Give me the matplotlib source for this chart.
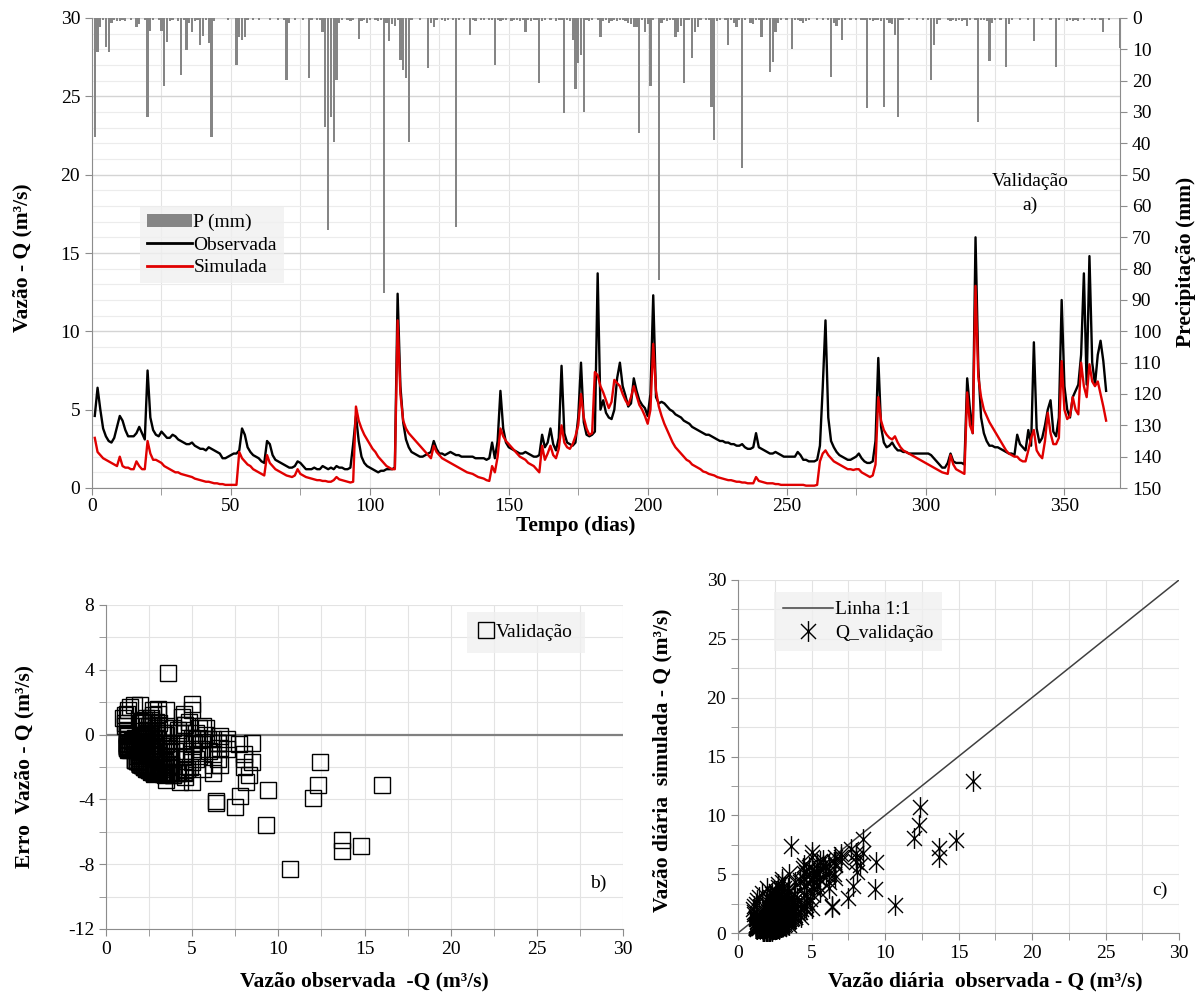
import numpy as np
import matplotlib
matplotlib.use("Agg")
import matplotlib.pyplot as plt
from matplotlib.path import Path
from matplotlib.lines import Line2D
from matplotlib.patches import Patch

# ---------------- data ----------------
q_obs = [
    4.6, 6.4, 5.0, 3.8, 3.3, 3.0, 2.9, 3.2, 3.9, 4.6,
    4.3, 3.7, 3.3, 3.3, 3.3, 3.5, 3.9, 3.5, 3.1, 7.5,
    4.5, 3.7, 3.4, 3.3, 3.6, 3.4, 3.2, 3.2, 3.4, 3.3,
    3.1, 3.0, 2.9, 2.8, 2.8, 2.9, 2.7, 2.6, 2.5, 2.5,
    2.4, 2.6, 2.5, 2.4, 2.3, 2.2, 1.9, 1.9, 2.0, 2.1,
    2.2, 2.2, 2.4, 3.8, 3.4, 2.6, 2.3, 2.1, 2.0, 1.9,
    1.7, 1.6, 3.0, 2.8, 2.1, 1.8, 1.7, 1.6, 1.5, 1.4,
    1.3, 1.3, 1.4, 1.7, 1.6, 1.4, 1.2, 1.2, 1.2, 1.3,
    1.2, 1.2, 1.4, 1.3, 1.2, 1.3, 1.2, 1.4, 1.3, 1.3,
    1.2, 1.2, 1.3, 2.8, 4.6, 3.0, 2.0, 1.6, 1.4, 1.3,
    1.2, 1.1, 1.0, 1.1, 1.1, 1.2, 1.2, 1.2, 1.3, 12.4,
    6.5, 4.2, 3.1, 2.6, 2.3, 2.2, 2.1, 2.0, 2.0, 2.1,
    2.2, 2.3, 3.0, 2.5, 2.2, 2.2, 2.1, 2.2, 2.3, 2.2,
    2.1, 2.1, 2.0, 2.0, 2.0, 2.0, 2.0, 1.9, 1.9, 1.9,
    1.9, 1.8, 1.9, 2.9, 1.9, 3.0, 6.2, 3.8, 2.9, 2.6,
    2.5, 2.4, 2.3, 2.2, 2.2, 2.3, 2.2, 2.1, 2.0, 2.0,
    2.1, 3.4, 2.6, 2.9, 3.8, 2.8, 2.4, 3.2, 7.8, 3.5,
    2.9, 2.8, 2.7, 2.9, 4.5, 8.0, 4.2, 3.4, 3.3, 3.4,
    3.6, 13.7, 5.0, 5.6, 4.8, 4.5, 4.4, 5.0, 7.0, 8.0,
    6.5, 5.9, 5.2, 5.4, 7.0, 6.2, 5.6, 5.3, 5.1, 4.6,
    6.0, 12.3, 5.8, 5.4, 5.5, 5.4, 5.2, 5.0, 4.9, 4.7,
    4.6, 4.5, 4.3, 4.2, 4.1, 3.9, 3.8, 3.7, 3.6, 3.5,
    3.4, 3.4, 3.3, 3.2, 3.1, 3.0, 3.0, 2.9, 2.9, 2.8,
    2.8, 2.7, 2.7, 2.8, 2.6, 2.5, 2.5, 2.6, 3.5, 2.6,
    2.5, 2.4, 2.3, 2.2, 2.2, 2.3, 2.2, 2.1, 2.0, 2.0,
    2.0, 2.0, 2.0, 2.3, 2.1, 1.8, 1.8, 1.7, 1.7, 1.7,
    1.8, 2.7, 6.4, 10.7, 4.5, 3.0, 2.6, 2.3, 2.1, 2.0,
    1.9, 1.8, 1.8, 1.9, 2.0, 2.2, 1.9, 1.7, 1.6, 1.6,
    1.7, 3.0, 8.3, 3.9, 2.9, 2.6, 2.7, 2.9, 2.6, 2.4,
    2.4, 2.3, 2.3, 2.2, 2.2, 2.2, 2.2, 2.2, 2.2, 2.2,
    2.2, 2.1, 1.9, 1.7, 1.5, 1.3, 1.3, 1.6, 2.2, 1.7,
    1.6, 1.6, 1.6, 1.5, 7.0, 5.0, 3.5, 16.0, 7.7, 4.5,
    3.5, 3.0, 2.7, 2.7, 2.6, 2.6, 2.5, 2.4, 2.3, 2.2,
    2.2, 2.1, 3.4, 2.8, 2.6, 2.4, 3.7, 2.7, 9.3, 3.8,
    2.9, 3.2, 4.0, 5.0, 5.6, 3.6, 3.3, 4.5, 12.0, 6.5,
    5.0, 4.5, 5.8, 6.2, 6.6, 8.5, 13.7, 6.6, 14.8, 8.0,
    6.6, 8.5, 9.4, 8.1, 6.2,
]

q_sim = [
    3.2, 2.3, 2.1, 1.9, 1.8, 1.7, 1.6, 1.5, 1.4, 2.0,
    1.4, 1.3, 1.3, 1.2, 1.2, 1.7, 1.4, 1.2, 1.2, 3.0,
    2.2, 1.8, 1.8, 1.7, 1.6, 1.4, 1.3, 1.2, 1.1, 1.0,
    1.0, 0.9, 0.85, 0.8, 0.75, 0.7, 0.6, 0.55, 0.5, 0.45,
    0.4, 0.4, 0.35, 0.3, 0.3, 0.25, 0.25, 0.2, 0.2, 0.2,
    0.2, 0.2, 2.3, 1.9, 1.7, 1.5, 1.4, 1.2, 1.1, 1.0,
    0.9, 0.8, 2.1, 1.6, 1.4, 1.2, 1.1, 1.0, 0.9, 0.8,
    0.75, 0.7, 0.8, 1.2, 0.9, 0.8, 0.7, 0.65, 0.6, 0.55,
    0.5, 0.5, 0.45, 0.45, 0.4, 0.4, 0.5, 0.7, 0.55, 0.5,
    0.45, 0.4, 0.35, 0.4, 5.2, 4.3, 3.8, 3.4, 3.1, 2.8,
    2.5, 2.3, 2.0, 1.8, 1.6, 1.4, 1.3, 1.2, 1.2, 10.7,
    6.0, 4.3, 3.8, 3.5, 3.3, 3.1, 2.9, 2.7, 2.5, 2.3,
    2.1, 1.9, 2.7, 2.3, 2.1, 1.9, 1.8, 1.7, 1.6, 1.5,
    1.4, 1.3, 1.2, 1.1, 1.0, 0.95, 0.9, 0.8, 0.7, 0.65,
    0.6, 0.5, 0.45, 1.4, 1.0, 2.0, 3.8, 3.3, 3.0, 2.8,
    2.6, 2.4, 2.2, 2.0, 1.9, 1.8, 1.6, 1.5, 1.4, 1.2,
    1.0, 2.7, 1.8, 2.2, 2.7, 2.1, 1.9, 2.5, 4.0, 2.9,
    2.6, 2.5, 2.8, 3.3, 4.0, 6.0, 4.5, 3.8, 3.4, 3.5,
    7.4, 7.2, 6.5, 6.1, 5.6, 5.1, 5.5, 6.9, 6.7, 6.5,
    6.0, 5.6, 5.3, 5.8, 6.5, 5.9, 5.3, 5.0, 4.6, 4.1,
    5.0, 9.2, 6.2, 5.2, 4.6, 4.1, 3.7, 3.3, 2.9, 2.6,
    2.4, 2.2, 2.0, 1.8, 1.7, 1.5, 1.4, 1.3, 1.2, 1.05,
    1.0, 0.9, 0.85, 0.8, 0.7, 0.65, 0.6, 0.55, 0.5, 0.5,
    0.45, 0.4, 0.4, 0.35, 0.35, 0.3, 0.3, 0.3, 0.7, 0.45,
    0.4, 0.35, 0.3, 0.3, 0.3, 0.25, 0.25, 0.2, 0.2, 0.2,
    0.2, 0.2, 0.2, 0.2, 0.2, 0.2, 0.15, 0.15, 0.15, 0.15,
    0.2, 1.7, 2.2, 2.4, 2.1, 1.9, 1.7, 1.6, 1.5, 1.4,
    1.3, 1.2, 1.2, 1.15, 1.2, 1.2, 1.0, 0.9, 0.8, 0.7,
    0.8, 1.5, 5.8, 4.3, 3.7, 3.4, 3.2, 3.1, 3.3, 2.9,
    2.6, 2.4, 2.3, 2.2, 2.1, 2.0, 1.9, 1.8, 1.7, 1.6,
    1.5, 1.4, 1.3, 1.2, 1.1, 1.0, 0.95, 0.9, 2.1, 1.5,
    1.2, 1.1, 1.0, 0.9, 6.1, 4.0, 3.5, 12.9, 7.1, 5.8,
    5.0, 4.6, 4.2, 3.9, 3.6, 3.3, 3.0, 2.7, 2.4, 2.2,
    2.1, 2.0, 2.0, 1.8, 1.7, 1.7, 2.4, 3.2, 3.7, 2.4,
    2.1, 1.9, 3.0, 4.8, 3.5, 2.8, 2.8, 3.2, 8.1, 5.0,
    4.4, 4.6, 5.8, 5.0, 4.7, 8.0, 6.5, 5.8, 7.9, 6.8,
    6.5, 6.8, 6.0, 5.2, 4.3,
]

p_days = [
    1, 2, 3, 4, 5, 6, 7, 8, 9, 10, 11, 12, 14, 16, 17, 19, 20, 21, 22, 24,
    25, 26, 27, 28, 29, 31, 32, 33, 34, 35, 36, 37, 38, 39, 40, 41, 42, 43, 44, 49,
    52, 53, 54, 55, 56, 58, 60, 64, 67, 69, 70, 71, 73, 76, 78, 79, 81, 82, 83, 84,
    85, 86, 87, 88, 89, 90, 92, 93, 94, 96, 97, 98, 99, 100, 102, 103, 104, 105, 106, 107,
    108, 109, 110, 111, 112, 113, 114, 115, 118, 121, 122, 123, 124, 126, 127, 128, 130, 131, 132, 134,
    136, 137, 138, 140, 141, 143, 144, 145, 146, 147, 148, 149, 151, 152, 153, 154, 155, 156, 157, 158,
    159, 160, 161, 162, 163, 165, 167, 168, 169, 170, 171, 172, 173, 174, 175, 176, 177, 178, 179, 180,
    182, 183, 184, 185, 186, 187, 188, 189, 190, 191, 192, 193, 194, 195, 196, 197, 198, 199, 200, 201,
    202, 204, 205, 206, 207, 208, 209, 210, 211, 212, 213, 214, 215, 216, 217, 218, 219, 221, 222, 223,
    224, 225, 226, 228, 229, 230, 231, 232, 233, 234, 235, 237, 238, 239, 240, 241, 242, 243, 244, 245,
    246, 247, 248, 250, 252, 253, 254, 255, 256, 257, 258, 261, 263, 265, 266, 267, 268, 269, 270, 271,
    273, 275, 277, 278, 279, 280, 281, 282, 283, 284, 285, 286, 287, 288, 289, 290, 291, 292, 294, 297,
    299, 301, 302, 303, 304, 305, 308, 309, 310, 311, 312, 313, 314, 315, 316, 318, 319, 320, 321, 322,
    323, 324, 325, 327, 329, 330, 331, 334, 337, 339, 342, 345, 347, 348, 351, 352, 353, 354, 355, 357,
    360, 361, 363, 364, 366, 370,
]
p_mm = [
    38, 10.7, 3, 0.5, 9.2, 11, 1.5, 0.5, 1, 1, 0.5, 1, 0.5, 3, 2, 0.5, 31.5, 4, 0.5, 0.5,
    4.3, 21.7, 7.8, 1, 0.5, 1, 18.2, 0.5, 10.2, 1.5, 4.4, 1, 0.5, 8.6, 5.9, 0.5, 8, 37.9, 1, 0.5,
    14.9, 6, 7, 6, 0.5, 0.5, 0.5, 0.5, 0.5, 0.5, 19.8, 1.5, 0.5, 0.5, 19.3, 0.5, 0.5, 0.5, 4.5, 34.7,
    67.6, 31.5, 39.5, 19.8, 1.5, 0.5, 0.5, 1, 0.5, 6.6, 1, 0.5, 1.5, 0.5, 0.5, 1, 0.5, 87.8, 1.5, 7.4,
    2, 2.5, 0.5, 13.5, 16.7, 19.2, 39.5, 0.5, 0.5, 16, 1.5, 3, 0.5, 0.5, 1, 0.5, 0.5, 66.6, 0.5, 0.5,
    5.4, 0.5, 1, 0.5, 0.5, 0.5, 0.5, 14.9, 0.5, 1, 0.5, 0.5, 1, 0.5, 0.5, 1, 0.5, 4.4, 0.5, 1,
    0.5, 0.5, 20.8, 1, 0.5, 0.5, 1, 0.5, 0.5, 30.4, 0.5, 1, 7, 22.8, 14.4, 11.7, 29.9, 0.5, 1, 0.5,
    0.5, 6, 1, 0.5, 1.5, 1, 0.5, 1, 0.5, 0.5, 1, 1.5, 2, 3, 3, 36.8, 0.5, 4.4, 2, 21.6,
    0.5, 83.6, 1.5, 0.5, 1, 0.5, 0.5, 6.1, 4.4, 2.6, 20.9, 0.5, 0.5, 12.9, 4.5, 3, 0.5, 0.5, 0.5, 28.3,
    38.9, 1, 0.5, 0.5, 8.6, 0.5, 1.5, 3, 0.5, 48, 0.5, 1.5, 2, 0.5, 0.5, 6, 0.5, 0.5, 17.2, 14.1,
    4.4, 1.5, 0.5, 0.5, 10, 0.5, 0.5, 1, 1.5, 1, 0.5, 0.5, 0.5, 0.5, 18.7, 1.5, 2.5, 0.5, 7, 0.5,
    0.5, 0.5, 0.5, 0.5, 28.8, 0.5, 1, 0.5, 0.5, 1, 28.3, 0.5, 1.5, 2, 5.4, 31.5, 0.5, 0.5, 0.5, 0.5,
    0.5, 0.5, 19.8, 8.6, 2, 0.5, 0.5, 1, 0.5, 1, 0.5, 1, 0.5, 2.6, 0.5, 0.5, 33.1, 0.5, 0.5, 1,
    13.6, 1.5, 0.5, 0.5, 15.7, 2, 0.5, 0.5, 0.5, 7.4, 0.5, 0.5, 15.7, 0.5, 1, 0.5, 1, 0.5, 1, 0.5,
    0.5, 0.5, 0.5, 4.4, 0.5, 9.6,
]

# ---------------- style ----------------
plt.rcParams["font.family"] = ["Liberation Serif", "DejaVu Serif"]
plt.rcParams["axes.unicode_minus"] = False
W, H = 1202, 994
fig = plt.figure(figsize=(W / 100, H / 100), dpi=100)

SP = "#8c8c8c"      # spine colour
GR = "#e3e3e3"      # grid colour
TICK_FS = 14
LAB_FS = 15.5
RED = "#e00000"


def box(l, t, r, b):
    return [l / W, 1 - b / H, (r - l) / W, (b - t) / H]


def fx(px):
    return px / W


def fy(py):
    return 1 - py / H


obs = np.array(q_obs)
sim = np.array(q_sim)
days = np.arange(1, len(obs) + 1)

# ---------------- panel a ----------------
ax = fig.add_axes(box(92, 18, 1120, 488))
ax.set_xlim(0, 370)
ax.set_ylim(0, 30)
ax.set_yticks(np.arange(0, 31, 5))
ax.set_yticks(np.arange(0, 31, 1), minor=True)
ax.set_xticks(np.arange(0, 351, 50))
ax.set_xticks(np.arange(0, 371, 25), minor=True)
ax.grid(which="major", axis="y", color="#d4d4d4", lw=1)
ax.grid(which="minor", axis="y", color="#ececec", lw=0.8)
ax.grid(which="both", axis="x", color=GR, lw=0.8)
ax.set_axisbelow(True)
ax.tick_params(axis="y", which="minor", length=0)
ax.tick_params(axis="both", which="major", direction="out", length=5, color=SP,
               labelsize=TICK_FS)
ax.tick_params(axis="x", which="both", direction="out", length=5, color=SP, pad=2)
for s in ["top", "right"]:
    ax.spines[s].set_visible(False)
for s in ["left", "bottom"]:
    ax.spines[s].set_color(SP)

ax.plot(days, obs, color="black", lw=1.7, zorder=3)
ax.plot(days, sim, color=RED, lw=1.7, zorder=4)

ax2 = ax.twinx()
ax2.set_ylim(150, 0)
ax2.set_xlim(0, 370)
ax2.bar(p_days, p_mm, width=0.8, color="#858585", zorder=2)
ax2.set_yticks(np.arange(0, 151, 10))
ax2.tick_params(axis="y", direction="out", length=5, color=SP, labelsize=TICK_FS)
for s in ["top", "left", "bottom"]:
    ax2.spines[s].set_visible(False)
ax2.spines["right"].set_color(SP)

fig.text(fx(22), fy(258), "Vazão - Q (m³/s)", rotation=90, ha="center", va="center",
         fontsize=LAB_FS, fontweight="bold")
fig.text(fx(1186), fy(262), "Precipitação (mm)", rotation=90, ha="center", va="center",
         fontsize=LAB_FS, fontweight="bold")
fig.text(fx(576), fy(526), "Tempo (dias)", ha="center", va="center",
         fontsize=LAB_FS, fontweight="bold")
fig.text(fx(1030), fy(182), "Validação", ha="center", va="center", fontsize=14)
fig.text(fx(1030), fy(205), "a)", ha="center", va="center", fontsize=14)

handles = [Patch(facecolor="#858585", edgecolor="none"),
           Line2D([], [], color="black", lw=2),
           Line2D([], [], color=RED, lw=2)]
leg = fig.legend(handles, ["P (mm)", "Observada", "Simulada"], loc="upper left",
                 bbox_to_anchor=(fx(140), fy(207)), fontsize=14, frameon=True,
                 facecolor="#f0f0f0", edgecolor="none", fancybox=False,
                 handlelength=2.3, handletextpad=0.1, labelspacing=0.25,
                 borderpad=0.35, borderaxespad=0)

# ---------------- panel b ----------------
axb = fig.add_axes(box(106, 605, 623, 929))
axb.set_xlim(0, 30)
axb.set_ylim(-12, 8)
axb.set_xticks(np.arange(0, 31, 5))
axb.set_xticks(np.arange(0, 31, 2.5), minor=True)
axb.set_yticks(np.arange(-12, 9, 4))
axb.set_yticks(np.arange(-12, 9, 2), minor=True)
axb.grid(which="both", color=GR, lw=0.8)
axb.set_axisbelow(True)
axb.tick_params(which="both", direction="out", length=5, color=SP, labelsize=TICK_FS)
for s in ["top", "right"]:
    axb.spines[s].set_visible(False)
for s in ["left", "bottom"]:
    axb.spines[s].set_color(SP)
axb.axhline(0, color="#808080", lw=1.6, zorder=2)
axb.plot(obs, sim - obs, ls="none", marker="s", ms=11, mfc="none", mec="black",
         mew=1.0, zorder=3)
fig.text(fx(24), fy(767), "Erro  Vazão - Q (m³/s)", rotation=90, ha="center",
         va="center", fontsize=LAB_FS, fontweight="bold")
fig.text(fx(364), fy(981), "Vazão observada  -Q (m³/s)", ha="center", va="center",
         fontsize=LAB_FS, fontweight="bold")
fig.text(fx(598), fy(883), "b)", ha="center", va="center", fontsize=14)
fig.legend([Line2D([], [], ls="none", marker="s", ms=11, mfc="none", mec="black")],
           ["Validação"], loc="upper left", bbox_to_anchor=(fx(467), fy(612)),
           fontsize=14, frameon=True, facecolor="#f0f0f0", edgecolor="none",
           fancybox=False, handlelength=0.8, handletextpad=0.1, borderpad=0.6,
           borderaxespad=0)

# ---------------- panel c ----------------
star = Path([(0, -1), (0, 1), (-0.72, -0.72), (0.72, 0.72), (-0.72, 0.72), (0.72, -0.72)],
            [Path.MOVETO, Path.LINETO] * 3)
axc = fig.add_axes(box(738, 580, 1179, 933))
axc.set_xlim(0, 30)
axc.set_ylim(0, 30)
axc.set_xticks(np.arange(0, 31, 5))
axc.set_xticks(np.arange(0, 31, 2.5), minor=True)
axc.set_yticks(np.arange(0, 31, 5))
axc.set_yticks(np.arange(0, 31, 2.5), minor=True)
axc.grid(which="both", color=GR, lw=0.8)
axc.set_axisbelow(True)
axc.tick_params(which="both", direction="out", length=5, color=SP, labelsize=TICK_FS)
for s in ["top", "right"]:
    axc.spines[s].set_visible(False)
for s in ["left", "bottom"]:
    axc.spines[s].set_color(SP)
axc.plot([0, 30], [0, 30], color="#404040", lw=1.1, zorder=2)
axc.plot(obs, sim, ls="none", marker=star, ms=15, mfc="none", mec="black", mew=1.0,
         zorder=3, clip_on=False)
fig.text(fx(662), fy(760), "Vazão diária  simulada - Q (m³/s)", rotation=90,
         ha="center", va="center", fontsize=LAB_FS, fontweight="bold")
fig.text(fx(985), fy(981), "Vazão diária  observada - Q (m³/s)", ha="center",
         va="center", fontsize=LAB_FS, fontweight="bold")
fig.text(fx(1160), fy(890), "c)", ha="center", va="center", fontsize=14)
fig.legend([Line2D([], [], color="#404040", lw=1.1),
            Line2D([], [], ls="none", marker=star, ms=15, mfc="none", mec="black")],
           ["Linha 1:1", "Q_validação"], loc="upper left",
           bbox_to_anchor=(fx(774), fy(592)), fontsize=14, frameon=True,
           facecolor="#f0f0f0", edgecolor="none", fancybox=False,
           handlelength=2.6, handletextpad=0.1, labelspacing=0.3, borderpad=0.45,
           borderaxespad=0)

fig.savefig("out.png", dpi=100)
